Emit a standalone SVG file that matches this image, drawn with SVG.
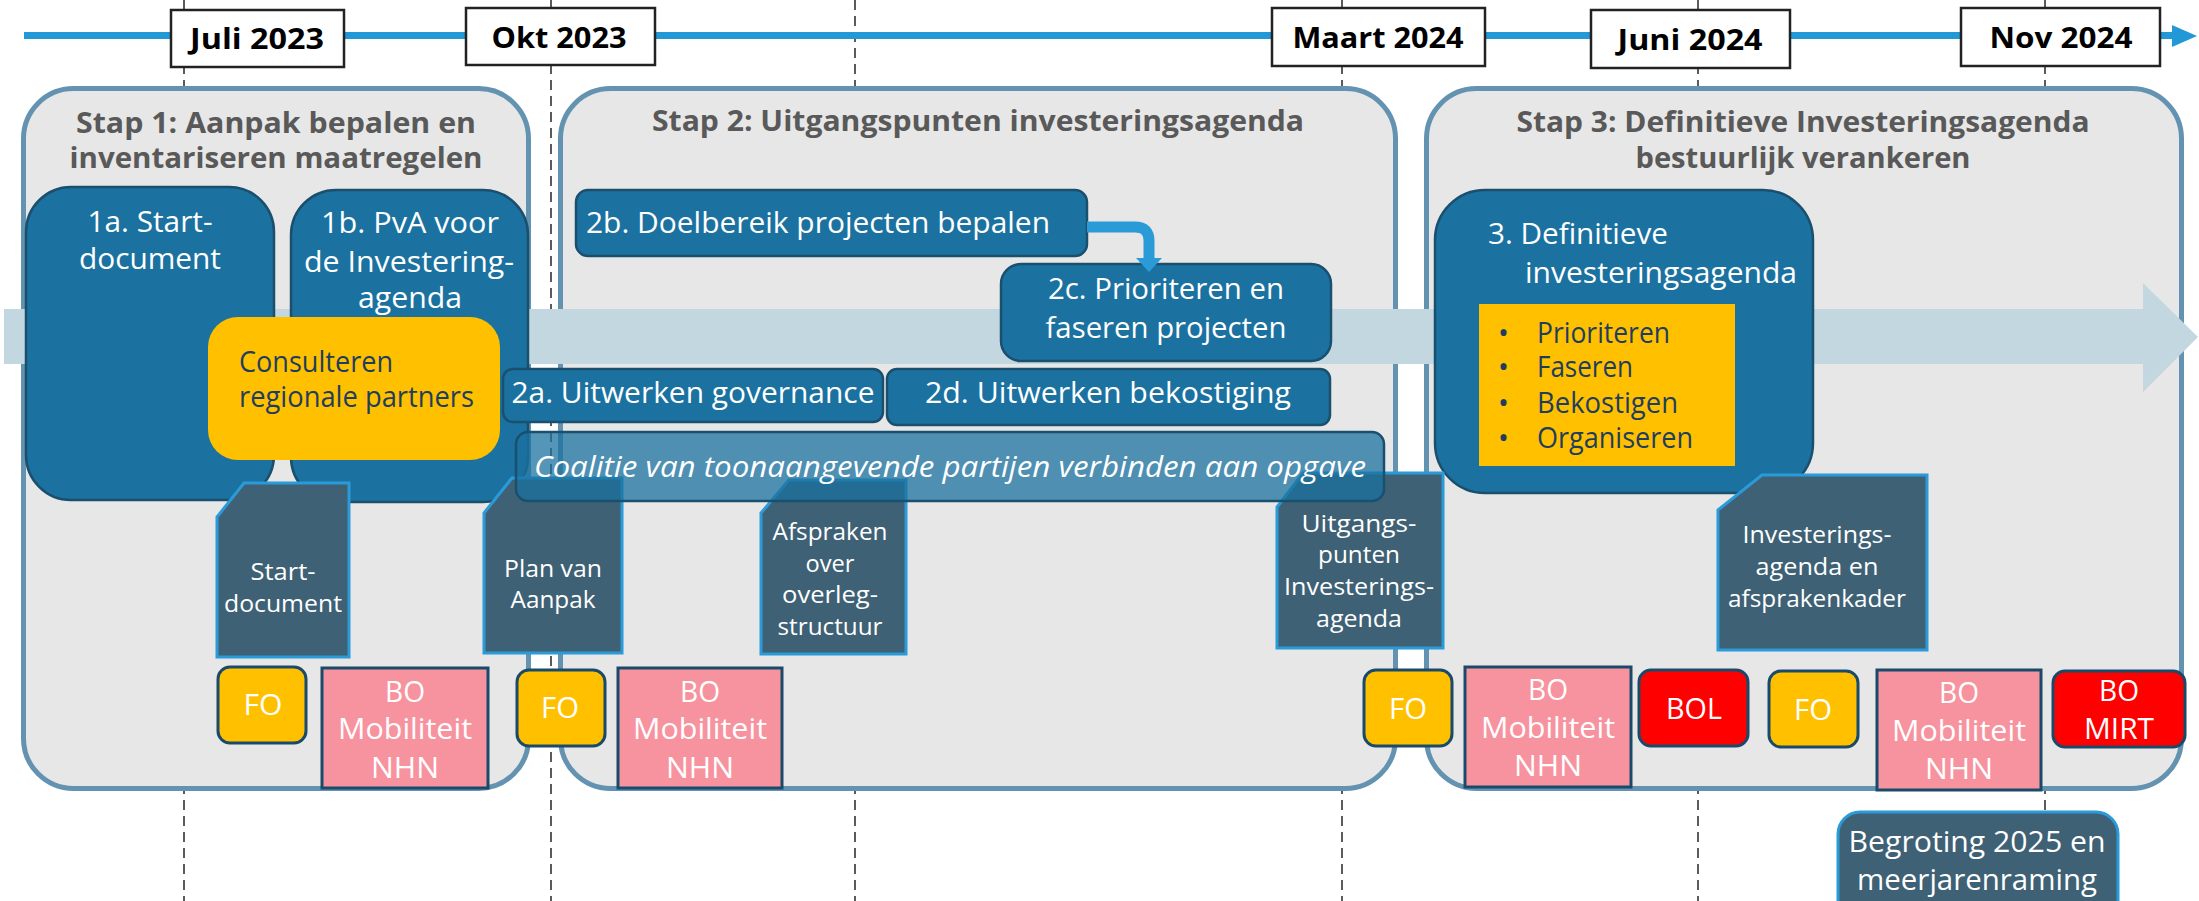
<svg xmlns="http://www.w3.org/2000/svg" width="2199" height="901" viewBox="0 0 2199 901">
<defs>
<style>
text{font-family:"Open Sans","Noto Sans","Liberation Sans",sans-serif;}
.dash{stroke:#333;stroke-width:1.6;stroke-dasharray:10 6;fill:none}
.date{fill:#fff;stroke:#222;stroke-width:2.5}
.dt{font-size:28px;font-weight:bold;fill:#000;text-anchor:middle}
.stage{fill:#e7e7e7;stroke:#6393b0;stroke-width:5}
.st{font-size:28px;font-weight:bold;fill:#595959;text-anchor:middle}
.node{fill:#1b72a0;stroke:#1a4f6e;stroke-width:2.5}
.nt{font-size:30px;fill:#fff;text-anchor:middle}
.ntl{font-size:30px;fill:#fff}
.yel{fill:#ffc000}
.yt{font-size:29px;fill:#1f3e5e}
.doc{fill:#3e6175;stroke:#2a9bd8;stroke-width:3}
.dct{font-size:24px;fill:#fff;text-anchor:middle}
.fo{fill:#ffc000;stroke:#1a4a6a;stroke-width:3}
.bo{fill:#f7939f;stroke:#1a4a6a;stroke-width:3}
.red{fill:#ff0000;stroke:#1a4a6a;stroke-width:3}
.mt{font-size:29px;fill:#fff;text-anchor:middle}
</style>
</defs>
<rect width="2199" height="901" fill="#fff"/>

<g id="gridlines">
<line class="dash" x1="184" y1="0" x2="184" y2="901"/>
<line class="dash" x1="551" y1="0" x2="551" y2="901"/>
<line class="dash" x1="855" y1="0" x2="855" y2="901"/>
<line class="dash" x1="1342" y1="0" x2="1342" y2="901"/>
<line class="dash" x1="1698" y1="0" x2="1698" y2="901"/>
<line class="dash" x1="2045" y1="0" x2="2045" y2="901"/>
</g>

<g id="timeline">
<rect x="24" y="32" width="2150" height="7" fill="#2398d7"/>
<polygon points="2172,25 2197,36 2172,47" fill="#2398d7"/>
</g>

<g id="date-juli2023"><rect class="date" x="171" y="10" width="173" height="57"/><text class="dt" x="257" y="49" textLength="134" lengthAdjust="spacingAndGlyphs">Juli 2023</text></g>
<g id="date-okt2023"><rect class="date" x="466" y="8" width="189" height="57"/><text class="dt" x="559" y="48" textLength="135" lengthAdjust="spacingAndGlyphs">Okt 2023</text></g>
<g id="date-maart2024"><rect class="date" x="1272" y="8" width="213" height="58"/><text class="dt" x="1378" y="48" textLength="171" lengthAdjust="spacingAndGlyphs">Maart 2024</text></g>
<g id="date-juni2024"><rect class="date" x="1591" y="10" width="199" height="58"/><text class="dt" x="1690" y="50" textLength="145" lengthAdjust="spacingAndGlyphs">Juni 2024</text></g>
<g id="date-nov2024"><rect class="date" x="1961" y="8" width="199" height="58"/><text class="dt" x="2061" y="48" textLength="143" lengthAdjust="spacingAndGlyphs">Nov 2024</text></g>

<g id="stap1">
<rect class="stage" x="23.5" y="88.5" width="505" height="700" rx="50"/>
<text class="st" x="276" y="133" textLength="400" lengthAdjust="spacingAndGlyphs">Stap 1: Aanpak bepalen en</text>
<text class="st" x="276" y="168" textLength="413" lengthAdjust="spacingAndGlyphs">inventariseren maatregelen</text>
</g>
<g id="stap2">
<rect class="stage" x="560.5" y="88.5" width="835" height="700" rx="50"/>
<text class="st" x="978" y="131" textLength="652" lengthAdjust="spacingAndGlyphs">Stap 2: Uitgangspunten investeringsagenda</text>
</g>
<g id="stap3">
<rect class="stage" x="1426.5" y="88.5" width="755" height="700" rx="50"/>
<text class="st" x="1803" y="132" textLength="573" lengthAdjust="spacingAndGlyphs">Stap 3: Definitieve Investeringsagenda</text>
<text class="st" x="1803" y="168" textLength="335" lengthAdjust="spacingAndGlyphs">bestuurlijk verankeren</text>
</g>

<g id="band">
<polygon points="4,309 2143,309 2143,283 2198,337 2143,392 2143,364 4,364" fill="#c3d7e0"/>
</g>

<g id="n1a">
<rect class="node" x="26" y="187" width="248" height="313" rx="45"/>
<text class="nt" x="150" y="232" textLength="125" lengthAdjust="spacingAndGlyphs">1a. Start-</text>
<text class="nt" x="150" y="269" textLength="142" lengthAdjust="spacingAndGlyphs">document</text>
</g>
<g id="n1b">
<rect class="node" x="291" y="190" width="237" height="312" rx="45"/>
<text class="nt" x="410" y="233" textLength="178" lengthAdjust="spacingAndGlyphs">1b. PvA voor</text>
<text class="nt" x="409" y="272" textLength="210" lengthAdjust="spacingAndGlyphs">de Investering-</text>
<text class="nt" x="410" y="308" textLength="104" lengthAdjust="spacingAndGlyphs">agenda</text>
</g>
<g id="consulteren">
<rect class="yel" x="208" y="317" width="292" height="143" rx="30"/>
<text class="yt" x="239" y="372" textLength="154" lengthAdjust="spacingAndGlyphs">Consulteren</text>
<text class="yt" x="239" y="407" textLength="235" lengthAdjust="spacingAndGlyphs">regionale partners</text>
</g>

<g id="n2b">
<rect class="node" x="576" y="190" width="511" height="66" rx="12"/>
<text class="ntl" x="586" y="233" textLength="464" lengthAdjust="spacingAndGlyphs">2b. Doelbereik projecten bepalen</text>
</g>
<g id="n2c">
<rect class="node" x="1001" y="264" width="330" height="97" rx="20"/>
<text class="nt" x="1166" y="299" textLength="236" lengthAdjust="spacingAndGlyphs">2c. Prioriteren en</text>
<text class="nt" x="1166" y="338" textLength="241" lengthAdjust="spacingAndGlyphs">faseren projecten</text>
</g>
<g id="n2a">
<rect class="node" x="503" y="369" width="380" height="53" rx="10"/>
<text class="nt" x="693" y="403" textLength="363" lengthAdjust="spacingAndGlyphs">2a. Uitwerken governance</text>
</g>
<g id="n2d">
<rect class="node" x="887" y="369" width="443" height="56" rx="10"/>
<text class="nt" x="1108" y="403" textLength="366" lengthAdjust="spacingAndGlyphs">2d. Uitwerken bekostiging</text>
</g>

<g id="n3">
<rect class="node" x="1435" y="190" width="378" height="303" rx="50"/>
<text class="ntl" x="1488" y="244" textLength="180" lengthAdjust="spacingAndGlyphs">3. Definitieve</text>
<text class="ntl" x="1525" y="283" textLength="272" lengthAdjust="spacingAndGlyphs">investeringsagenda</text>
<rect class="yel" x="1479" y="304" width="256" height="162"/>
<text class="yt" x="1498" y="343">•</text>
<text class="yt" x="1498" y="377">•</text>
<text class="yt" x="1498" y="413">•</text>
<text class="yt" x="1498" y="448">•</text>
<text class="yt" x="1537" y="343" textLength="133" lengthAdjust="spacingAndGlyphs">Prioriteren</text>
<text class="yt" x="1537" y="377" textLength="96" lengthAdjust="spacingAndGlyphs">Faseren</text>
<text class="yt" x="1537" y="413" textLength="141" lengthAdjust="spacingAndGlyphs">Bekostigen</text>
<text class="yt" x="1537" y="448" textLength="156" lengthAdjust="spacingAndGlyphs">Organiseren</text>
</g>

<g id="doc-startdocument">
<polygon class="doc" points="244,483 349,483 349,657 217,657 217,517"/>
<text class="dct" x="283" y="580" textLength="65" lengthAdjust="spacingAndGlyphs">Start-</text>
<text class="dct" x="283" y="612" textLength="118" lengthAdjust="spacingAndGlyphs">document</text>
</g>
<g id="doc-planvanaanpak">
<polygon class="doc" points="512,478 622,478 622,653 484,653 484,513"/>
<text class="dct" x="553" y="577" textLength="98" lengthAdjust="spacingAndGlyphs">Plan van</text>
<text class="dct" x="553" y="608" textLength="85" lengthAdjust="spacingAndGlyphs">Aanpak</text>
</g>
<g id="doc-afspraken">
<polygon class="doc" points="789,480 906,480 906,654 761,654 761,513"/>
<text class="dct" x="830" y="540" textLength="115" lengthAdjust="spacingAndGlyphs">Afspraken</text>
<text class="dct" x="830" y="572" textLength="49" lengthAdjust="spacingAndGlyphs">over</text>
<text class="dct" x="830" y="603" textLength="96" lengthAdjust="spacingAndGlyphs">overleg-</text>
<text class="dct" x="830" y="635" textLength="105" lengthAdjust="spacingAndGlyphs">structuur</text>
</g>
<g id="doc-uitgangspunten">
<polygon class="doc" points="1303,473 1443,473 1443,648 1277,648 1277,507"/>
<text class="dct" x="1359" y="532" textLength="115" lengthAdjust="spacingAndGlyphs">Uitgangs-</text>
<text class="dct" x="1359" y="563" textLength="82" lengthAdjust="spacingAndGlyphs">punten</text>
<text class="dct" x="1359" y="595" textLength="150" lengthAdjust="spacingAndGlyphs">Investerings-</text>
<text class="dct" x="1359" y="627" textLength="86" lengthAdjust="spacingAndGlyphs">agenda</text>
</g>
<g id="doc-investeringsagenda">
<polygon class="doc" points="1762,475 1927,475 1927,650 1718,650 1718,510"/>
<text class="dct" x="1817" y="543" textLength="149" lengthAdjust="spacingAndGlyphs">Investerings-</text>
<text class="dct" x="1817" y="575" textLength="123" lengthAdjust="spacingAndGlyphs">agenda en</text>
<text class="dct" x="1817" y="607" textLength="178" lengthAdjust="spacingAndGlyphs">afsprakenkader</text>
</g>

<g id="coalitie">
<rect x="516" y="432" width="868" height="69" rx="12" fill="#1b72a0" fill-opacity="0.75" stroke="#1a4f6e" stroke-width="2.5"/>
<text class="nt" x="950" y="477" font-style="italic" textLength="832" lengthAdjust="spacingAndGlyphs">Coalitie van toonaangevende partijen verbinden aan opgave</text>
</g>

<g id="connectors">
<path d="M1087,227 H1135 Q1149,227 1149,241 V259" fill="none" stroke="#2b9bd8" stroke-width="11"/>
<polygon points="1136,258 1162,258 1149,272" fill="#2b9bd8"/>
</g>

<g id="fo1"><rect class="fo" x="218" y="667" width="88" height="76" rx="12"/><text class="mt" x="263" y="715" textLength="39" lengthAdjust="spacingAndGlyphs">FO</text></g>
<g id="bo1"><rect class="bo" x="322" y="668" width="166" height="120"/>
<text class="mt" x="405" y="702" textLength="40" lengthAdjust="spacingAndGlyphs">BO</text>
<text class="mt" x="405" y="739" textLength="134" lengthAdjust="spacingAndGlyphs">Mobiliteit</text>
<text class="mt" x="405" y="778" textLength="68" lengthAdjust="spacingAndGlyphs">NHN</text></g>
<g id="fo2"><rect class="fo" x="517" y="670" width="88" height="76" rx="12"/><text class="mt" x="560" y="718" textLength="38" lengthAdjust="spacingAndGlyphs">FO</text></g>
<g id="bo2"><rect class="bo" x="618" y="668" width="164" height="120"/>
<text class="mt" x="700" y="702" textLength="40" lengthAdjust="spacingAndGlyphs">BO</text>
<text class="mt" x="700" y="739" textLength="134" lengthAdjust="spacingAndGlyphs">Mobiliteit</text>
<text class="mt" x="700" y="778" textLength="68" lengthAdjust="spacingAndGlyphs">NHN</text></g>
<g id="fo3"><rect class="fo" x="1364" y="670" width="88" height="76" rx="12"/><text class="mt" x="1408" y="719" textLength="38" lengthAdjust="spacingAndGlyphs">FO</text></g>
<g id="bo3"><rect class="bo" x="1465" y="667" width="166" height="120"/>
<text class="mt" x="1548" y="700" textLength="40" lengthAdjust="spacingAndGlyphs">BO</text>
<text class="mt" x="1548" y="738" textLength="134" lengthAdjust="spacingAndGlyphs">Mobiliteit</text>
<text class="mt" x="1548" y="776" textLength="68" lengthAdjust="spacingAndGlyphs">NHN</text></g>
<g id="bol"><rect class="red" x="1639" y="670" width="109" height="76" rx="12"/><text class="mt" x="1694" y="719" textLength="56" lengthAdjust="spacingAndGlyphs">BOL</text></g>
<g id="fo4"><rect class="fo" x="1769" y="671" width="89" height="76" rx="12"/><text class="mt" x="1813" y="720" textLength="38" lengthAdjust="spacingAndGlyphs">FO</text></g>
<g id="bo4"><rect class="bo" x="1877" y="670" width="164" height="120"/>
<text class="mt" x="1959" y="703" textLength="40" lengthAdjust="spacingAndGlyphs">BO</text>
<text class="mt" x="1959" y="741" textLength="134" lengthAdjust="spacingAndGlyphs">Mobiliteit</text>
<text class="mt" x="1959" y="779" textLength="68" lengthAdjust="spacingAndGlyphs">NHN</text></g>
<g id="bomirt"><rect class="red" x="2053" y="671" width="132" height="76" rx="12"/>
<text class="mt" x="2119" y="701" textLength="40" lengthAdjust="spacingAndGlyphs">BO</text>
<text class="mt" x="2119" y="739" textLength="70" lengthAdjust="spacingAndGlyphs">MIRT</text></g>

<g id="begroting">
<rect x="1838" y="812" width="280" height="120" rx="22" fill="#3e6175" stroke="#2a9bd8" stroke-width="3"/>
<text class="nt" x="1977" y="852" textLength="257" lengthAdjust="spacingAndGlyphs">Begroting 2025 en</text>
<text class="nt" x="1977" y="890" textLength="240" lengthAdjust="spacingAndGlyphs">meerjarenraming</text>
</g>
</svg>
